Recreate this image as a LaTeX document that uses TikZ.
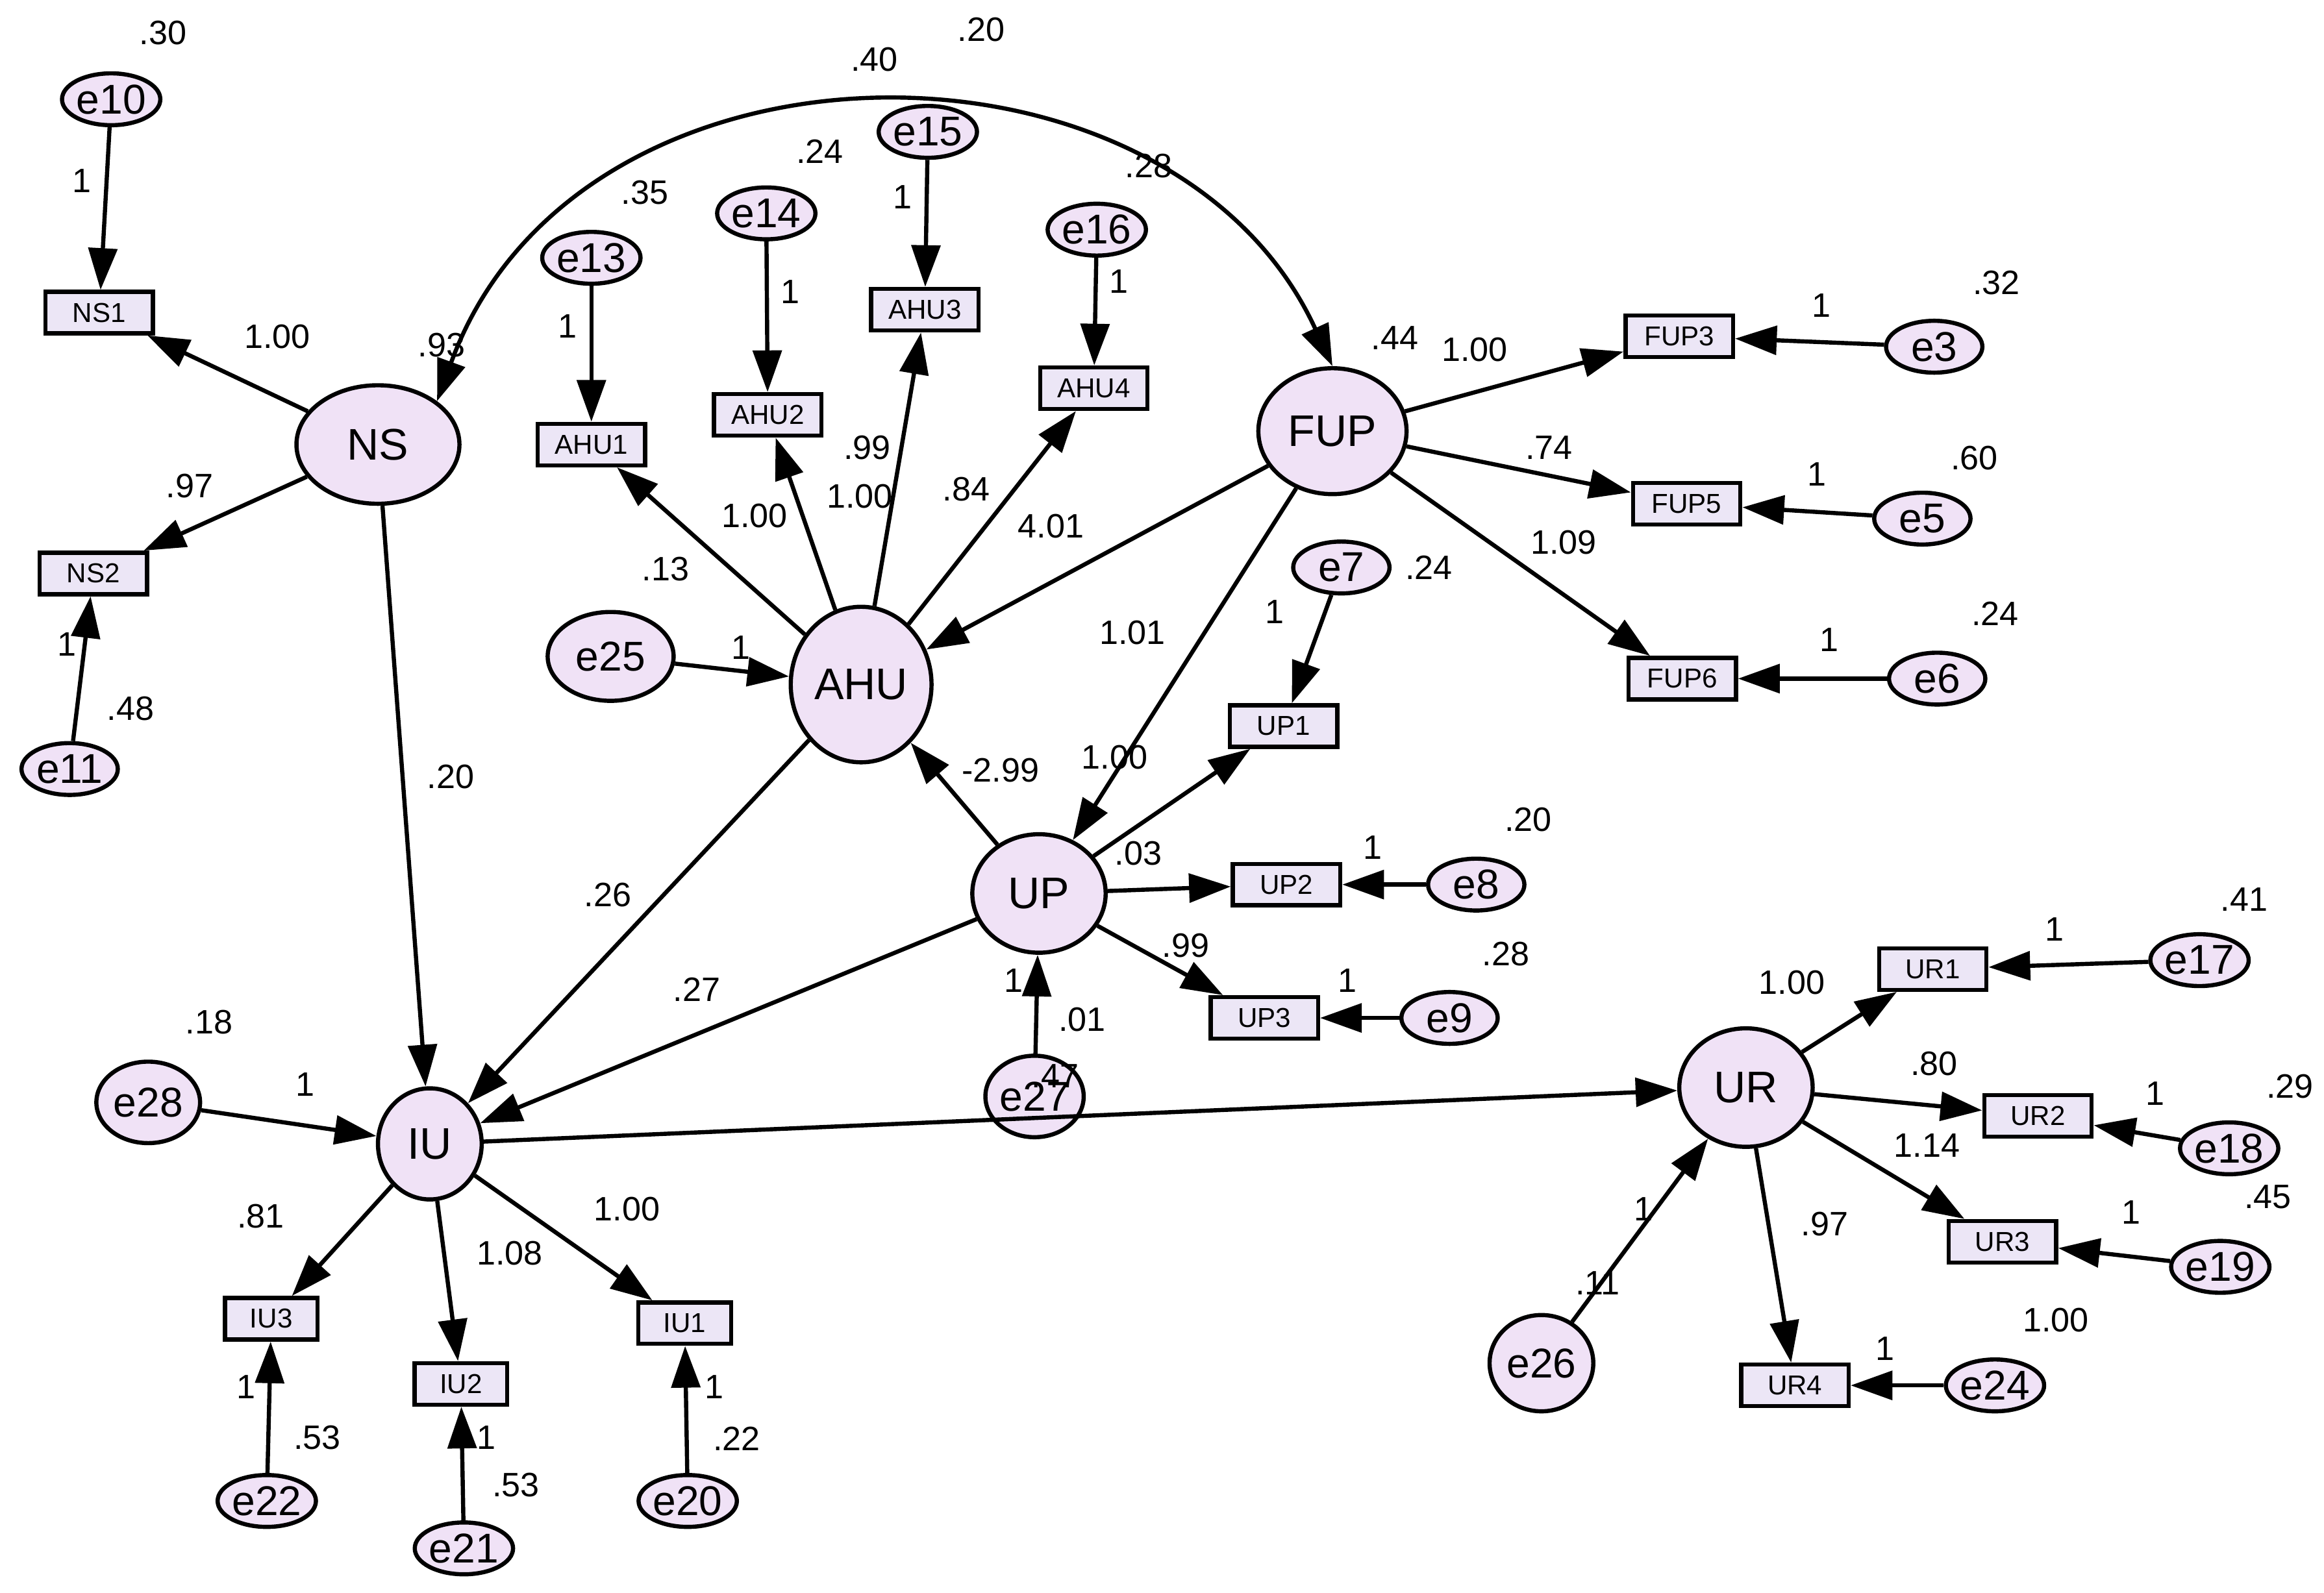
\documentclass[tikz,border=0pt]{standalone}
\usepackage{fontspec}
\setmainfont{Liberation Sans}
\usetikzlibrary{arrows.meta,shapes.geometric}
\definecolor{lat}{RGB}{240,226,246}
\definecolor{obs}{RGB}{236,230,246}
\begin{document}
\begin{tikzpicture}[x=0.02cm,y=-0.02cm,
 lv/.style={ellipse,draw,line width=1.6pt,fill=lat,inner sep=0,font=\fontsize{17}{17}\selectfont},
 er/.style={ellipse,draw,line width=1.6pt,fill=lat,inner sep=0,font=\fontsize{16}{16}\selectfont},
 ob/.style={rectangle,draw,line width=1.6pt,fill=obs,minimum width=1.45cm,minimum height=0.56cm,inner sep=0,font=\fontsize{10.5}{10.5}\selectfont},
 ar/.style={line width=1.6pt,-{Triangle[length=16pt,width=11pt]}},
 lb/.style={font=\fontsize{13}{13}\selectfont,inner sep=0}]
\useasboundingbox[fill=white] (0,0) rectangle (1568,1075);
% latent
\node[lv,minimum width=2.2cm,minimum height=1.6cm] (NS) at (255,300) {NS};
\node[lv,minimum width=1.9cm,minimum height=2.1cm] (AHU) at (581,462) {AHU};
\node[lv,minimum width=2cm,minimum height=1.7cm] (FUP) at (899,291) {FUP};
\node[lv,minimum width=1.8cm,minimum height=1.6cm] (UP) at (701,603) {UP};
\node[lv,minimum width=1.4cm,minimum height=1.5cm] (IU) at (290,772) {IU};
\node[lv,minimum width=1.8cm,minimum height=1.6cm] (UR) at (1178,734) {UR};
% observed
\node[ob] (NS1) at (67,211) {NS1};
\node[ob] (NS2) at (63,387) {NS2};
\node[ob] (AHU1) at (399,300) {AHU1};
\node[ob] (AHU2) at (518,280) {AHU2};
\node[ob] (AHU3) at (624,209) {AHU3};
\node[ob] (AHU4) at (738,262) {AHU4};
\node[ob] (FUP3) at (1133,227) {FUP3};
\node[ob] (FUP5) at (1138,340) {FUP5};
\node[ob] (FUP6) at (1135,458) {FUP6};
\node[ob] (UP1) at (866,490) {UP1};
\node[ob] (UP2) at (868,597) {UP2};
\node[ob] (UP3) at (853,687) {UP3};
\node[ob,minimum width=1.25cm] (IU3) at (183,890) {IU3};
\node[ob,minimum width=1.25cm] (IU2) at (311,934) {IU2};
\node[ob,minimum width=1.25cm] (IU1) at (462,893) {IU1};
\node[ob] (UR1) at (1304,654) {UR1};
\node[ob] (UR2) at (1375,753) {UR2};
\node[ob] (UR3) at (1351,838) {UR3};
\node[ob] (UR4) at (1211,935) {UR4};
% errors
\foreach \n/\x/\y in {e10/75/67,e11/47/519,e13/399/174,e14/517/144,e15/626/89,e16/740/155,e3/1305/234,e5/1297/350,e6/1307/458,e7/905/383,e8/996/597,e9/978/687,e22/180/1013,e21/313/1045,e20/464/1013,e17/1484/648,e18/1504/775,e19/1498/855,e24/1346/935}
 \node[er,minimum width=1.3cm,minimum height=0.7cm] (\n) at (\x,\y) {\n};
\node[er,minimum width=1.7cm,minimum height=1.2cm] (e25) at (412,443) {e25};
\node[er,minimum width=1.3cm,minimum height=1.1cm] (e27) at (698,740) {e27};
\node[er,minimum width=1.4cm,minimum height=1.1cm] (e28) at (100,744) {e28};
\node[er,minimum width=1.4cm,minimum height=1.3cm] (e26) at (1040,920) {e26};
% covariance
\draw[line width=1.6pt,{Triangle[length=16pt,width=11pt]}-{Triangle[length=16pt,width=11pt]}] (NS.north east) .. controls (390,10) and (790,10) .. (FUP.north);
% paths
\foreach \a/\b in {e10/NS1,NS/NS1,NS/NS2,e11/NS2,NS/IU,e13/AHU1,e14/AHU2,e15/AHU3,e16/AHU4,AHU/AHU1,AHU/AHU2,AHU/AHU3,AHU/AHU4,FUP/AHU,e25/AHU,FUP/FUP3,FUP/FUP5,FUP/FUP6,e3/FUP3,e5/FUP5,e6/FUP6,FUP/UP,UP/AHU,e7/UP1,UP/UP1,UP/UP2,UP/UP3,e8/UP2,e9/UP3,e27/UP,UP/IU,AHU/IU,e28/IU,IU/IU3,IU/IU2,IU/IU1,e22/IU3,e21/IU2,e20/IU1,IU/UR,UR/UR1,UR/UR2,UR/UR3,UR/UR4,e17/UR1,e18/UR2,e19/UR3,e24/UR4,e26/UR}
 \draw[ar] (\a) -- (\b);
% labels
\foreach \t/\x/\y in {.30/110/22,1/55/122,1.00/187/227,.93/298/233,.97/128/328,1/45/435,.48/88/478,.20/304/524,
.40/590/40,.20/662/20,.35/435/130,.24/553/102,1/383/220,1/533/197,1/609/133,.28/775/112,1/755/190,
.99/585/302,1.00/580/335,1.00/509/348,.84/652/330,4.01/709/355,.13/449/384,1/500/437,
.44/941/228,1.00/995/236,.74/1045/302,1.09/1055/366,1/1229/206,.32/1347/191,1/1226/320,.60/1332/309,1/1234/432,.24/1346/414,
1.01/764/427,.24/964/383,1/860/413,1.00/752/511,-2.99/675/520,.03/768/576,1/926/572,.20/1031/553,.99/800/638,1/909/662,.28/1016/644,1/684/662,.01/730/688,.47/712/726,
.26/410/604,.27/470/668,.18/141/690,1/206/732,
.81/176/821,1.08/344/846,1.00/423/816,1/166/936,.53/214/970,1/328/970,.53/348/1002,1/482/936,.22/497/971,
.41/1514/607,1/1386/627,1.00/1209/663,.80/1305/718,1/1454/738,.29/1545/733,1.14/1300/773,1/1438/818,.45/1530/808,.97/1231/826,1/1109/816,.11/1078/866,1.00/1387/891,1/1272/910}
 \node[lb] at (\x,\y) {\t};
\end{tikzpicture}
\end{document}
